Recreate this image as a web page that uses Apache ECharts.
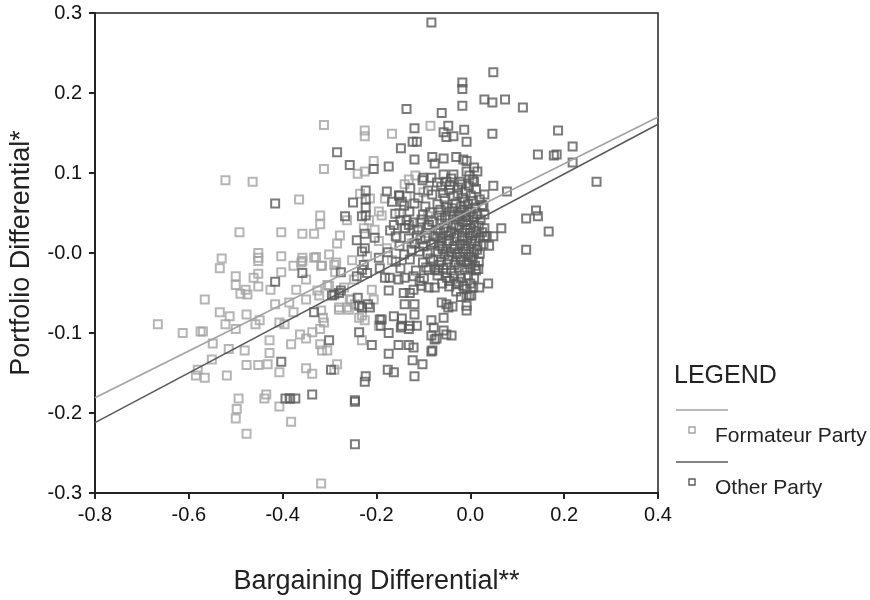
<!DOCTYPE html>
<html>
<head>
<meta charset="utf-8">
<style>
  html, body { margin: 0; padding: 0; background: #fff; }
  #main { width: 870px; height: 600px; }
</style>
<script src="https://cdn.jsdelivr.net/npm/echarts@6/dist/echarts.min.js"></script>
</head>
<body>
<div id="main"></div>
<script>
// x/y axis tick labels as printed
const xTickValues = [-0.8, -0.6, -0.4, -0.2, 0.0, 0.2, 0.4]
const xTickLabels = ['-0.8', '-0.6', '-0.4', '-0.2', '0.0', '0.2', '0.4']
const yTickValues = [-0.3, -0.2, -0.1, 0.0, 0.1, 0.2, 0.3]
const yTickLabels = ['-0.3', '-0.2', '-0.1', '-0.0', '0.1', '0.2', '0.3']

// fitted lines, [x, y] at the two ends of the plot
const formateurFit = [[-0.8, -0.181], [0.4, 0.170]]
const otherFit = [[-0.8, -0.212], [0.4, 0.161]]

// formateur party points (light grey)
const formateurPoints = [
  [-0.666, -0.089], [-0.613, -0.100], [-0.575, -0.098], [-0.570, -0.098], [-0.566, -0.058], [-0.534, -0.074],
  [-0.534, -0.019], [-0.530, -0.007], [-0.513, -0.079], [-0.522, -0.089], [-0.500, -0.095], [-0.500, -0.029],
  [-0.500, -0.040], [-0.490, -0.051], [-0.475, -0.052], [-0.479, -0.046], [-0.462, -0.031], [-0.452, -0.026],
  [-0.452, 0.000], [-0.452, -0.006], [-0.452, -0.010], [-0.452, -0.042], [-0.477, -0.077], [-0.458, -0.089],
  [-0.449, -0.084], [-0.403, -0.004], [-0.403, -0.024], [-0.426, -0.046], [-0.416, -0.064], [-0.386, -0.062],
  [-0.407, -0.087], [-0.396, -0.089], [-0.377, -0.074], [-0.371, -0.046], [-0.358, -0.006], [-0.358, -0.010],
  [-0.350, -0.033], [-0.333, -0.006], [-0.318, -0.016], [-0.326, -0.047], [-0.322, -0.053], [-0.318, -0.072],
  [-0.314, -0.081], [-0.312, -0.087], [-0.301, -0.002], [-0.286, -0.012], [-0.301, -0.041], [-0.280, -0.071],
  [-0.259, -0.071], [-0.254, -0.058], [-0.246, -0.064], [-0.337, -0.099], [-0.320, -0.095], [-0.320, -0.114],
  [-0.316, -0.122], [-0.305, -0.122], [-0.363, -0.102], [-0.350, -0.107], [-0.382, -0.114], [-0.428, -0.109],
  [-0.428, -0.125], [-0.515, -0.120], [-0.481, -0.122], [-0.549, -0.113], [-0.551, -0.133], [-0.581, -0.146],
  [-0.585, -0.153], [-0.566, -0.156], [-0.519, -0.153], [-0.477, -0.140], [-0.452, -0.140], [-0.432, -0.139],
  [-0.407, -0.149], [-0.350, -0.144], [-0.337, -0.151], [-0.284, -0.139], [-0.494, -0.182], [-0.498, -0.195],
  [-0.500, -0.207], [-0.477, -0.226], [-0.439, -0.182], [-0.435, -0.177], [-0.407, -0.192], [-0.386, -0.182],
  [-0.382, -0.211], [-0.318, -0.288], [-0.237, -0.081], [-0.225, -0.084], [-0.231, -0.109],
  [-0.312, 0.160], [-0.225, 0.153], [-0.225, 0.146], [-0.206, 0.115], [-0.240, 0.099], [-0.225, 0.102],
  [-0.312, 0.105], [-0.522, 0.091], [-0.464, 0.089], [-0.365, 0.067], [-0.235, 0.074], [-0.320, 0.047],
  [-0.320, 0.036], [-0.492, 0.026], [-0.403, 0.026], [-0.358, 0.024], [-0.333, 0.024], [-0.278, 0.022],
  [-0.284, 0.012], [-0.329, -0.005], [-0.377, -0.016], [-0.360, -0.012], [-0.316, -0.016], [-0.288, -0.024],
  [-0.350, -0.058], [-0.305, -0.040], [-0.085, 0.159], [-0.167, 0.149], [-0.214, 0.068], [-0.195, 0.052],
  [-0.189, 0.047], [-0.131, 0.092], [-0.117, 0.097], [-0.252, -0.009], [-0.290, -0.015], [-0.210, -0.046],
  [-0.206, -0.058], [-0.280, -0.068], [-0.263, -0.068], [-0.257, -0.058], [-0.231, -0.078], [-0.290, -0.146],
  [-0.204, 0.029], [-0.195, 0.015], [-0.195, -0.091], [-0.178, 0.006], [-0.157, 0.019], [-0.142, 0.031],
  [-0.125, 0.012], [-0.108, 0.037], [-0.093, 0.025], [-0.167, -0.009], [-0.151, 0.050], [-0.182, 0.068],
  [-0.136, 0.071], [-0.263, 0.041], [-0.248, -0.033], [-0.269, -0.043], [-0.220, -0.004], [-0.227, 0.031],
  [-0.216, 0.041], [-0.120, 0.030], [-0.090, 0.046], [-0.070, 0.020], [-0.050, 0.060], [-0.100, 0.076],
  [-0.140, 0.086], [-0.060, 0.008], [-0.030, 0.034]
]

// other party points (dark grey)
const otherPoints = [
  [-0.416, 0.062], [-0.284, 0.126], [-0.257, 0.110], [-0.206, 0.105], [-0.250, 0.063], [-0.223, 0.078],
  [-0.223, 0.067], [-0.223, 0.057], [-0.223, 0.047], [-0.267, 0.046], [-0.231, 0.046], [-0.242, 0.016],
  [-0.225, 0.024], [-0.204, 0.019], [-0.358, -0.025], [-0.416, -0.036], [-0.403, -0.136], [-0.333, -0.074],
  [-0.301, -0.109], [-0.297, -0.146], [-0.295, -0.053], [-0.276, -0.024], [-0.276, -0.047], [-0.394, -0.182],
  [-0.384, -0.182], [-0.373, -0.182], [-0.337, -0.177], [-0.246, -0.184], [-0.246, -0.186], [-0.246, -0.239],
  [-0.237, -0.099], [-0.225, -0.161], [-0.223, -0.154], [-0.210, -0.115], [-0.240, -0.056], [-0.237, -0.066],
  [-0.231, -0.068], [-0.218, -0.064], [-0.214, -0.068], [-0.242, -0.029], [-0.231, -0.021], [-0.227, -0.015],
  [-0.220, -0.025], [-0.231, 0.002], [-0.225, 0.006], [-0.195, -0.006], [-0.193, -0.019], [-0.193, -0.083],
  [-0.280, -0.050], [-0.290, -0.052],
  [-0.136, 0.180], [-0.061, 0.175], [-0.057, 0.151], [-0.051, 0.145], [-0.047, 0.159], [-0.119, 0.156],
  [-0.148, 0.131], [-0.123, 0.139], [-0.114, 0.139], [-0.119, 0.117], [-0.174, 0.108], [-0.081, 0.120],
  [-0.076, 0.112], [-0.100, 0.094], [-0.083, 0.094], [-0.057, 0.098], [-0.051, 0.089], [-0.178, 0.077],
  [-0.167, 0.064], [-0.151, 0.072], [-0.146, 0.064], [-0.163, 0.035], [-0.136, 0.041], [-0.131, 0.035],
  [-0.083, 0.288], [0.049, 0.226], [-0.017, 0.213], [-0.017, 0.205], [-0.017, 0.184], [0.030, 0.192],
  [0.047, 0.188], [0.074, 0.192], [0.112, 0.182], [0.187, 0.153], [0.047, 0.149], [0.218, 0.133],
  [0.144, 0.123], [0.178, 0.122], [0.184, 0.123], [0.218, 0.113], [0.269, 0.089], [-0.036, 0.146],
  [-0.013, 0.154], [-0.008, 0.139], [-0.057, 0.118], [-0.030, 0.120], [-0.015, 0.117], [-0.008, 0.115],
  [0.008, 0.107], [0.015, 0.102], [-0.036, 0.098], [-0.008, 0.102], [-0.002, 0.097], [0.008, 0.089],
  [0.049, 0.084], [0.030, 0.073], [0.078, 0.077], [0.028, 0.058], [0.030, 0.048], [0.119, 0.043],
  [0.140, 0.053], [0.144, 0.046], [0.066, 0.031], [0.167, 0.027], [0.030, 0.021], [0.049, 0.021],
  [0.119, 0.004], [0.040, 0.009], [0.017, -0.020], [0.019, -0.043], [0.038, -0.038], [-0.008, -0.053],
  [-0.002, -0.053], [0.002, -0.053], [-0.008, -0.066], [-0.008, -0.072], [-0.040, -0.103], [-0.057, -0.081],
  [-0.047, -0.068], [-0.057, -0.097], [-0.083, -0.084], [-0.078, -0.093], [-0.083, -0.103], [-0.072, -0.107],
  [-0.081, -0.122], [-0.119, -0.077], [-0.114, -0.091], [-0.148, -0.093], [-0.131, -0.095], [-0.189, -0.083],
  [-0.163, -0.079], [-0.146, -0.082], [-0.174, -0.100], [-0.153, -0.115], [-0.131, -0.115], [-0.121, -0.118],
  [-0.174, -0.126], [-0.123, -0.134], [-0.102, -0.139], [-0.176, -0.146], [-0.163, -0.149], [-0.119, -0.154],
  [-0.140, -0.064], [-0.119, -0.064], [-0.061, -0.062], [-0.051, -0.064], [-0.038, -0.067], [-0.083, -0.123],
  [-0.191, -0.091], [-0.146, -0.091], [-0.129, -0.091], [-0.051, -0.102], [-0.076, -0.108],
  [-0.182, -0.031], [-0.172, -0.031], [-0.153, -0.033], [-0.140, -0.031], [-0.089, -0.021], [-0.068, -0.022],
  [-0.051, -0.025], [-0.108, -0.035], [-0.089, -0.043], [-0.076, -0.043], [-0.142, -0.050], [-0.129, -0.050],
  [-0.121, -0.046], [-0.174, -0.047],
  [-0.102, 0.091], [-0.071, 0.088], [-0.041, 0.093], [-0.022, 0.089], [0.005, 0.092],
  [-0.128, 0.081], [-0.090, 0.078], [-0.062, 0.083], [-0.045, 0.079], [-0.026, 0.082], [-0.010, 0.077], [0.012, 0.080],
  [-0.152, 0.072], [-0.111, 0.069], [-0.081, 0.073], [-0.055, 0.068], [-0.036, 0.071], [-0.016, 0.069], [0.001, 0.072], [0.020, 0.067],
  [-0.141, 0.059], [-0.119, 0.062], [-0.096, 0.058], [-0.070, 0.061], [-0.051, 0.057], [-0.031, 0.062], [-0.019, 0.058], [-0.005, 0.061], [0.010, 0.057], [0.025, 0.060],
  [-0.160, 0.049], [-0.130, 0.052], [-0.101, 0.048], [-0.086, 0.051], [-0.066, 0.047], [-0.044, 0.052], [-0.034, 0.048], [-0.021, 0.051], [-0.009, 0.047], [0.001, 0.052], [0.015, 0.049],
  [-0.149, 0.041], [-0.121, 0.038], [-0.104, 0.042], [-0.081, 0.039], [-0.061, 0.041], [-0.049, 0.037], [-0.029, 0.042], [-0.016, 0.039], [-0.004, 0.041], [0.008, 0.038], [0.022, 0.042],
  [-0.171, 0.028], [-0.139, 0.031], [-0.111, 0.029], [-0.091, 0.032], [-0.069, 0.028], [-0.056, 0.031], [-0.041, 0.027], [-0.024, 0.032], [-0.011, 0.029], [0.000, 0.031], [0.012, 0.027], [0.030, 0.031],
  [-0.159, 0.021], [-0.131, 0.018], [-0.114, 0.022], [-0.096, 0.019], [-0.074, 0.021], [-0.061, 0.018], [-0.046, 0.022], [-0.029, 0.019], [-0.018, 0.021], [-0.006, 0.018], [0.005, 0.022], [0.020, 0.019], [0.035, 0.021],
  [-0.151, 0.009], [-0.119, 0.012], [-0.100, 0.008], [-0.084, 0.011], [-0.065, 0.009], [-0.050, 0.012], [-0.036, 0.008], [-0.022, 0.011], [-0.011, 0.009], [0.002, 0.012], [0.015, 0.008], [0.028, 0.011],
  [-0.176, 0.001], [-0.141, -0.002], [-0.109, 0.002], [-0.091, -0.001], [-0.069, 0.002], [-0.055, -0.002], [-0.041, 0.001], [-0.028, -0.001], [-0.015, 0.002], [-0.004, -0.002], [0.008, 0.001], [0.020, -0.001],
  [-0.159, -0.011], [-0.129, -0.008], [-0.101, -0.012], [-0.079, -0.009], [-0.062, -0.011], [-0.048, -0.008], [-0.031, -0.012], [-0.020, -0.009], [-0.008, -0.011], [0.005, -0.008], [0.018, -0.011],
  [-0.149, -0.019], [-0.116, -0.022], [-0.094, -0.018], [-0.075, -0.021], [-0.058, -0.019], [-0.040, -0.022], [-0.025, -0.018], [-0.012, -0.021], [0.000, -0.019], [0.012, -0.022],
  [-0.121, -0.029], [-0.099, -0.032], [-0.070, -0.028], [-0.050, -0.031], [-0.035, -0.029], [-0.020, -0.032], [-0.005, -0.028], [0.008, -0.031],
  [-0.104, -0.041], [-0.060, -0.038], [-0.045, -0.042], [-0.030, -0.039], [-0.015, -0.041], [0.000, -0.038],
  [-0.043, 0.085], [-0.018, 0.086], [-0.003, 0.084], [-0.058, 0.075], [-0.027, 0.074], [-0.012, 0.064], [0.006, 0.065],
  [-0.064, 0.054], [-0.039, 0.056], [-0.013, 0.054], [0.006, 0.045], [-0.054, 0.044], [-0.024, 0.046], [-0.036, 0.035],
  [-0.008, 0.035], [0.018, 0.034], [-0.064, 0.025], [-0.034, 0.024], [-0.001, 0.025], [0.025, 0.026], [-0.045, 0.015],
  [-0.016, 0.016], [0.010, 0.015], [-0.059, 0.005], [-0.033, 0.005], [-0.009, 0.005], [0.014, 0.004], [-0.046, -0.004],
  [-0.021, -0.005], [0.001, -0.005], [-0.067, -0.015], [-0.034, -0.015], [-0.004, -0.014], [0.010, -0.016], [-0.045, -0.035],
  [-0.025, -0.036], [-0.008, -0.045], [0.006, -0.043], [-0.030, -0.048], [-0.020, -0.055], [-0.078, 0.013], [-0.088, 0.035],
  [-0.106, 0.017], [-0.125, 0.004], [-0.085, -0.007]
]

const lightGrey = '#a3a3a3'
const darkGrey = '#5a5a5a'
const fontFamily = '"Liberation Sans", Arial, sans-serif'

const myChart = echarts.init(document.getElementById('main'))
myChart.setOption({
  animation: false,
  grid: {
    left: 92,
    right: 212,
    top: 13,
    bottom: 103,
    show: true,
    borderColor: '#222',
    borderWidth: 1.5,
    backgroundColor: '#fff'
  },
  xAxis: {
    type: 'value',
    min: -0.8,
    max: 0.4,
    interval: 0.2,
    name: 'Bargaining Differential**',
    nameLocation: 'middle',
    nameGap: 75,
    nameTextStyle: { color: '#222', fontSize: 27, fontFamily: fontFamily },
    axisLine: { show: true, onZero: false, lineStyle: { color: '#222', width: 2 } },
    axisTick: { show: true, length: 6, lineStyle: { color: '#222', width: 2 } },
    splitLine: { show: false },
    axisLabel: {
      color: '#111',
      fontSize: 20,
      fontFamily: fontFamily,
      margin: 12,
      formatter: function(v) {
        const i = xTickValues.findIndex(t => Math.abs(t - v) < 1e-6)
        return i >= 0 ? xTickLabels[i] : ''
      }
    }
  },
  yAxis: {
    type: 'value',
    min: -0.3,
    max: 0.3,
    interval: 0.1,
    name: 'Portfolio Differential*',
    nameLocation: 'middle',
    nameGap: 60,
    nameRotate: 90,
    nameTextStyle: { color: '#222', fontSize: 27, fontFamily: fontFamily },
    axisLine: { show: true, onZero: false, lineStyle: { color: '#222', width: 2 } },
    axisTick: { show: true, length: 6, lineStyle: { color: '#222', width: 2 } },
    splitLine: { show: false },
    axisLabel: {
      color: '#111',
      fontSize: 20,
      fontFamily: fontFamily,
      margin: 13,
      formatter: function(v) {
        const i = yTickValues.findIndex(t => Math.abs(t - v) < 1e-6)
        return i >= 0 ? yTickLabels[i] : ''
      }
    }
  },
  series: [{
    name: 'Formateur Party',
    type: 'scatter',
    symbol: 'rect',
    symbolSize: 8,
    itemStyle: { color: 'transparent', borderColor: lightGrey, borderWidth: 2 },
    data: formateurPoints,
    z: 2
  }, {
    name: 'Other Party',
    type: 'scatter',
    symbol: 'rect',
    symbolSize: 8,
    itemStyle: { color: 'transparent', borderColor: darkGrey, borderWidth: 2 },
    data: otherPoints,
    z: 3
  }, {
    name: 'Formateur fit',
    type: 'line',
    symbol: 'none',
    lineStyle: { color: lightGrey, width: 1.6 },
    data: formateurFit,
    z: 4
  }, {
    name: 'Other fit',
    type: 'line',
    symbol: 'none',
    lineStyle: { color: darkGrey, width: 1.6 },
    data: otherFit,
    z: 4
  }],
  graphic: [
    { type: 'text', left: 674, top: 364, style: { text: 'LEGEND', fill: '#222', font: '25px ' + fontFamily } },
    { type: 'line', shape: { x1: 676, y1: 410, x2: 728, y2: 410 }, style: { stroke: lightGrey, lineWidth: 1.6 } },
    { type: 'rect', shape: { x: 689, y: 427, width: 6, height: 6 }, style: { fill: 'none', stroke: lightGrey, lineWidth: 1.4 } },
    { type: 'text', left: 715, top: 426, style: { text: 'Formateur Party', fill: '#222', font: '21px ' + fontFamily } },
    { type: 'line', shape: { x1: 676, y1: 462, x2: 728, y2: 462 }, style: { stroke: darkGrey, lineWidth: 1.6 } },
    { type: 'rect', shape: { x: 689, y: 479, width: 6, height: 6 }, style: { fill: 'none', stroke: darkGrey, lineWidth: 1.4 } },
    { type: 'text', left: 715, top: 478, style: { text: 'Other Party', fill: '#222', font: '21px ' + fontFamily } }
  ]
})
window.addEventListener('resize', function() {
  myChart.resize()
})
</script>
</body>
</html>
